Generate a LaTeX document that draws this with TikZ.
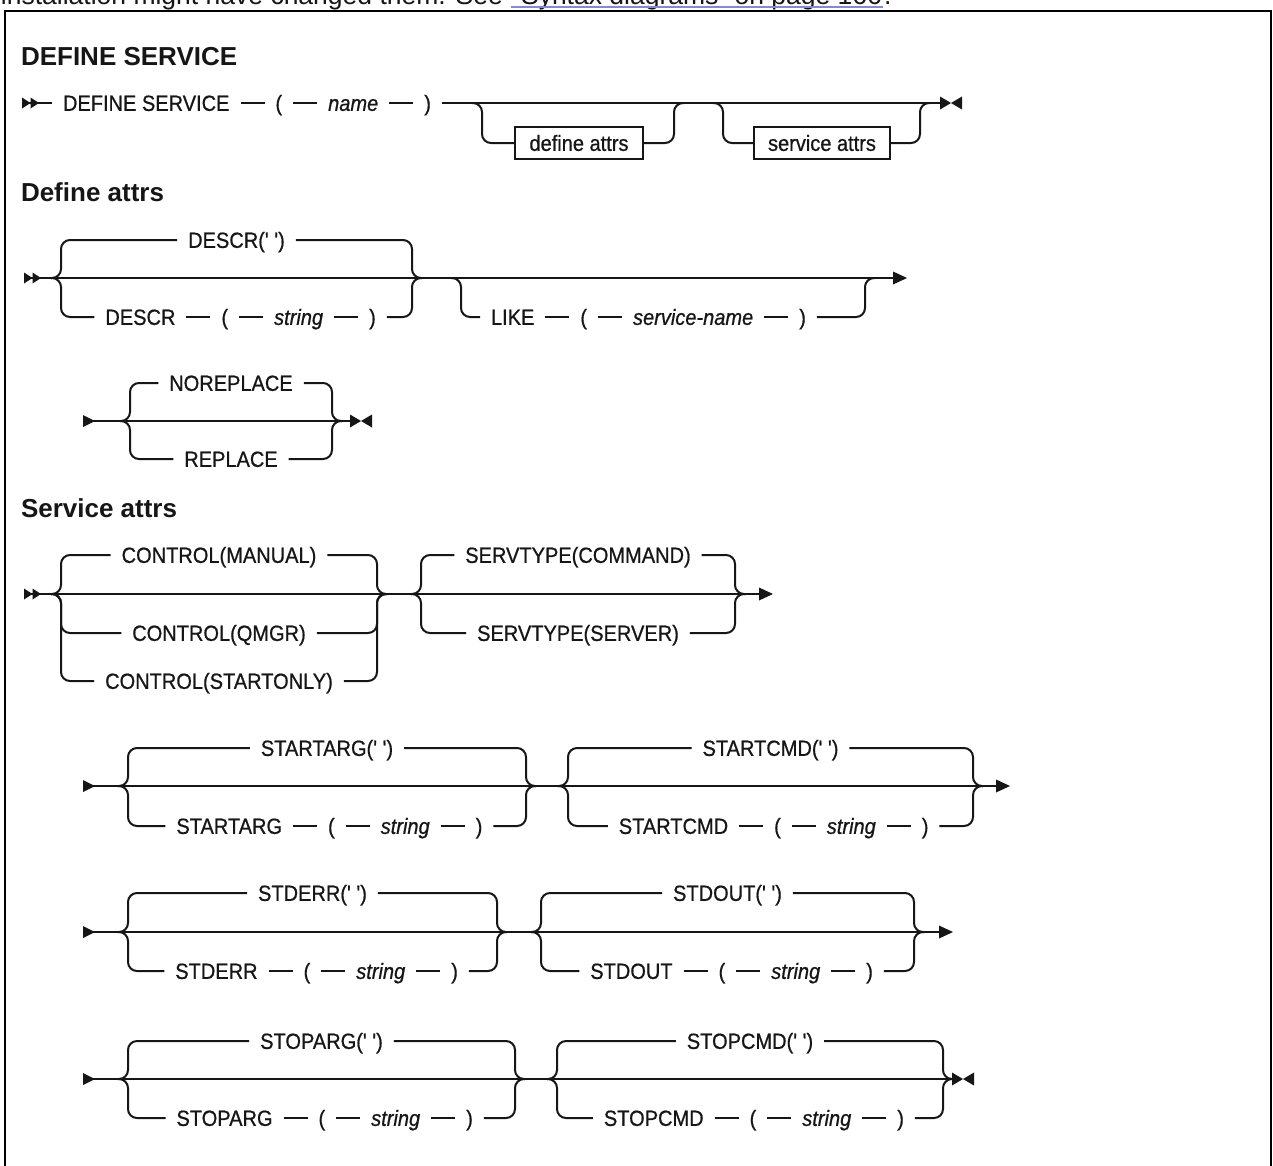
\documentclass[tikz,border=0pt]{standalone}
\usepackage{fontspec}
\newfontfamily\dfont{Liberation Sans}
\newfontfamily\cfont{Liberation Sans}[FakeStretch=0.91,FakeBold=0.7]
\usetikzlibrary{positioning}
\definecolor{ink}{HTML}{161616}
\definecolor{linkul}{HTML}{7A8FCC}
\tikzset{
  dblstart/.pic={\fill (0,-5.5) -- (8.5,0) -- (0,5.5) -- cycle; \fill (8.5,-5.5) -- (17,0) -- (8.5,5.5) -- cycle;},
  sglstart/.pic={\fill (0,-6) -- (12,0) -- (0,6) -- cycle;},
  contend/.pic={\fill (-14,-6.5) -- (0,0) -- (-14,6.5) -- cycle;},
  stopsym/.pic={\fill (0,-6.5) -- (11,0) -- (0,6.5) -- cycle; \fill (22,-6.5) -- (11,0) -- (22,6.5) -- cycle;},
}
\newcommand\kwchain[4]{%
  \node[kw, anchor=west] (#1k) at (#2) {#3};
  \node[kw, right=24pt of #1k] (#1o) {(};
  \node[var, right=24pt of #1o] (#1v) {#4};
  \node[kw, right=24pt of #1v] (#1c) {)};
  \draw (#1k) -- (#1o) (#1o) -- (#1v) (#1v) -- (#1c);
}
\newcommand\joinL[2]{\draw[rr] ([xshift=-10pt]#1) -- (#1) -- (#1 |- #2) -- (#2);}
\newcommand\joinR[2]{\draw[rr] (#2) -- (#1 |- #2) -- (#1) -- ([xshift=10pt]#1);}
\begin{document}
\begin{tikzpicture}[x=1pt,y=-1pt,line width=2pt,color=ink,
  rr/.style={rounded corners=9pt},
  kw/.style={font=\cfont\fontsize{22}{26}\selectfont, inner xsep=10pt, inner ysep=0pt, text height=15.7pt, text depth=0pt},
  var/.style={kw, font=\cfont\fontsize{22}{26}\selectfont\itshape},
  refbox/.style={draw, font=\cfont\fontsize{22}{26}\selectfont, inner xsep=14pt, inner ysep=0pt, text height=15.7pt, text depth=0pt, minimum height=32pt},
  head/.style={font=\dfont\fontsize{26}{30}\selectfont\bfseries, anchor=base west, inner sep=0pt},
  toptext/.style={font=\dfont\fontsize{26.5}{30}\selectfont, anchor=base west, inner sep=0pt},
]
\useasboundingbox (0,0) rectangle (1273,1165);
\clip (0,0) rectangle (1273,1165);
\fill[white] (0,0) rectangle (1273,1165);

% clipped text line at the top
\node[toptext] (tt1) at (0,4) {installation might have changed them. See};
\node[toptext] (tt2) at ([xshift=7.4pt]tt1.base east) {“Syntax diagrams” on page 166};
\node[toptext] (tt3) at (tt2.base east) {.};
\draw[linkul, line width=1.2pt] ([yshift=-3pt]tt2.base west) -- ([yshift=-3pt]tt2.base east);

% frame
\draw[black, line width=2pt] (5,1180) -- (5,11) -- (1271,11) -- (1271,1180);

% headings
\node[head] (h1) at (20,65) {DEFINE SERVICE};
\node[head] (h2) at (20,201) {Define attrs};
\node[head] (h3) at (20,517) {Service attrs};

% ---------- diagram 1 ----------
\coordinate (g1s) at (22,103);
\coordinate (g1e) at (940,103);
\pic at (g1s) {dblstart};
\node[kw, anchor=west] (d1) at (52,103) {DEFINE SERVICE};
\node[kw, right=24pt of d1] (d2) {(};
\node[var, right=24pt of d2] (d3) {name};
\node[kw, right=24pt of d3] (d4) {)};
\draw (g1s) -- (d1);
\draw (d1) -- (d2) (d2) -- (d3) (d3) -- (d4) (d4) -- (g1e);
\pic at (g1e) {stopsym};
\coordinate (j1) at (482,103); \coordinate (k1) at (674,103);
\coordinate (j2) at (723,103); \coordinate (k2) at (920,103);
\node[refbox] (b1) at (579,143) {define attrs};
\node[refbox] (b2) at (822,143) {service attrs};
\joinL{j1}{b1} \joinR{k1}{b1}
\joinL{j2}{b2} \joinR{k2}{b2}

% ---------- diagram 2 : Define attrs ----------
\coordinate (g2s) at (24,278);
\coordinate (g2e) at (907,278);
\draw (g2s) -- ([xshift=-10pt]g2e);
\pic at (g2s) {dblstart};
\pic at (g2e) {contend};
\coordinate (l2a) at (61,278); \coordinate (r2a) at (412,278);
\node[kw] (t2a) at (236.5,240) {DESCR(' ')};
\kwchain{b2a}{94.4,317}{DESCR}{string}
\joinL{l2a}{t2a} \joinL{l2a}{b2ak}
\joinR{r2a}{t2a} \joinR{r2a}{b2ac}
\coordinate (l2b) at (461,278); \coordinate (r2b) at (865,278);
\kwchain{b2b}{480,317}{LIKE}{service-name}
\joinL{l2b}{b2bk} \joinR{r2b}{b2bc}

% ---------- diagram 3 : replace ----------
\coordinate (g3s) at (83,421);
\coordinate (g3e) at (350,421);
\draw (g3s) -- (g3e);
\pic at (g3s) {sglstart};
\pic at (g3e) {stopsym};
\coordinate (l3) at (130,421); \coordinate (r3) at (332,421);
\node[kw] (t3) at (231,383) {NOREPLACE};
\node[kw] (b3) at (231,459) {REPLACE};
\joinL{l3}{t3} \joinL{l3}{b3}
\joinR{r3}{t3} \joinR{r3}{b3}

% ---------- diagram 4 : Service attrs ----------
\coordinate (g4s) at (24,594);
\coordinate (g4e) at (773,594);
\draw (g4s) -- ([xshift=-10pt]g4e);
\pic at (g4s) {dblstart};
\pic at (g4e) {contend};
\coordinate (l4a) at (61,594); \coordinate (r4a) at (377,594);
\node[kw] (t4a) at (219,555) {CONTROL(MANUAL)};
\node[kw] (m4a) at (219,633) {CONTROL(QMGR)};
\node[kw] (b4a) at (219,681) {CONTROL(STARTONLY)};
\joinL{l4a}{t4a} \joinL{l4a}{m4a} \joinL{l4a}{b4a}
\joinR{r4a}{t4a} \joinR{r4a}{m4a} \joinR{r4a}{b4a}
\coordinate (l4b) at (421,594); \coordinate (r4b) at (735,594);
\node[kw] (t4b) at (578,555) {SERVTYPE(COMMAND)};
\node[kw] (b4b) at (578,633) {SERVTYPE(SERVER)};
\joinL{l4b}{t4b} \joinL{l4b}{b4b}
\joinR{r4b}{t4b} \joinR{r4b}{b4b}

% ---------- diagram 5 : start ----------
\coordinate (g5s) at (83,786);
\coordinate (g5e) at (1010,786);
\draw (g5s) -- ([xshift=-10pt]g5e);
\pic at (g5s) {sglstart};
\pic at (g5e) {contend};
\coordinate (l5a) at (128,786); \coordinate (r5a) at (526,786);
\node[kw] (t5a) at (327,748) {STARTARG(' ')};
\kwchain{b5a}{165.4,826}{STARTARG}{string}
\joinL{l5a}{t5a} \joinL{l5a}{b5ak}
\joinR{r5a}{t5a} \joinR{r5a}{b5ac}
\coordinate (l5b) at (568,786); \coordinate (r5b) at (973,786);
\node[kw] (t5b) at (770.5,748) {STARTCMD(' ')};
\kwchain{b5b}{607.8,826}{STARTCMD}{string}
\joinL{l5b}{t5b} \joinL{l5b}{b5bk}
\joinR{r5b}{t5b} \joinR{r5b}{b5bc}

% ---------- diagram 6 : std ----------
\coordinate (g6s) at (83,932);
\coordinate (g6e) at (953,932);
\draw (g6s) -- ([xshift=-10pt]g6e);
\pic at (g6s) {sglstart};
\pic at (g6e) {contend};
\coordinate (l6a) at (128,932); \coordinate (r6a) at (497,932);
\node[kw] (t6a) at (312.5,893) {STDERR(' ')};
\kwchain{b6a}{164.3,971}{STDERR}{string}
\joinL{l6a}{t6a} \joinL{l6a}{b6ak}
\joinR{r6a}{t6a} \joinR{r6a}{b6ac}
\coordinate (l6b) at (541,932); \coordinate (r6b) at (914,932);
\node[kw] (t6b) at (727.5,893) {STDOUT(' ')};
\kwchain{b6b}{579.3,971}{STDOUT}{string}
\joinL{l6b}{t6b} \joinL{l6b}{b6bk}
\joinR{r6b}{t6b} \joinR{r6b}{b6bc}

% ---------- diagram 7 : stop ----------
\coordinate (g7s) at (83,1079);
\coordinate (g7e) at (952,1079);
\draw (g7s) -- (g7e);
\pic at (g7s) {sglstart};
\pic at (g7e) {stopsym};
\coordinate (l7a) at (128,1079); \coordinate (r7a) at (515,1079);
\node[kw] (t7a) at (321.5,1041) {STOPARG(' ')};
\kwchain{b7a}{165.5,1118}{STOPARG}{string}
\joinL{l7a}{t7a} \joinL{l7a}{b7ak}
\joinR{r7a}{t7a} \joinR{r7a}{b7ac}
\coordinate (l7b) at (557,1079); \coordinate (r7b) at (943,1079);
\node[kw] (t7b) at (750,1041) {STOPCMD(' ')};
\kwchain{b7b}{592.9,1118}{STOPCMD}{string}
\joinL{l7b}{t7b} \joinL{l7b}{b7bk}
\joinR{r7b}{t7b} \joinR{r7b}{b7bc}
\end{tikzpicture}
\end{document}
